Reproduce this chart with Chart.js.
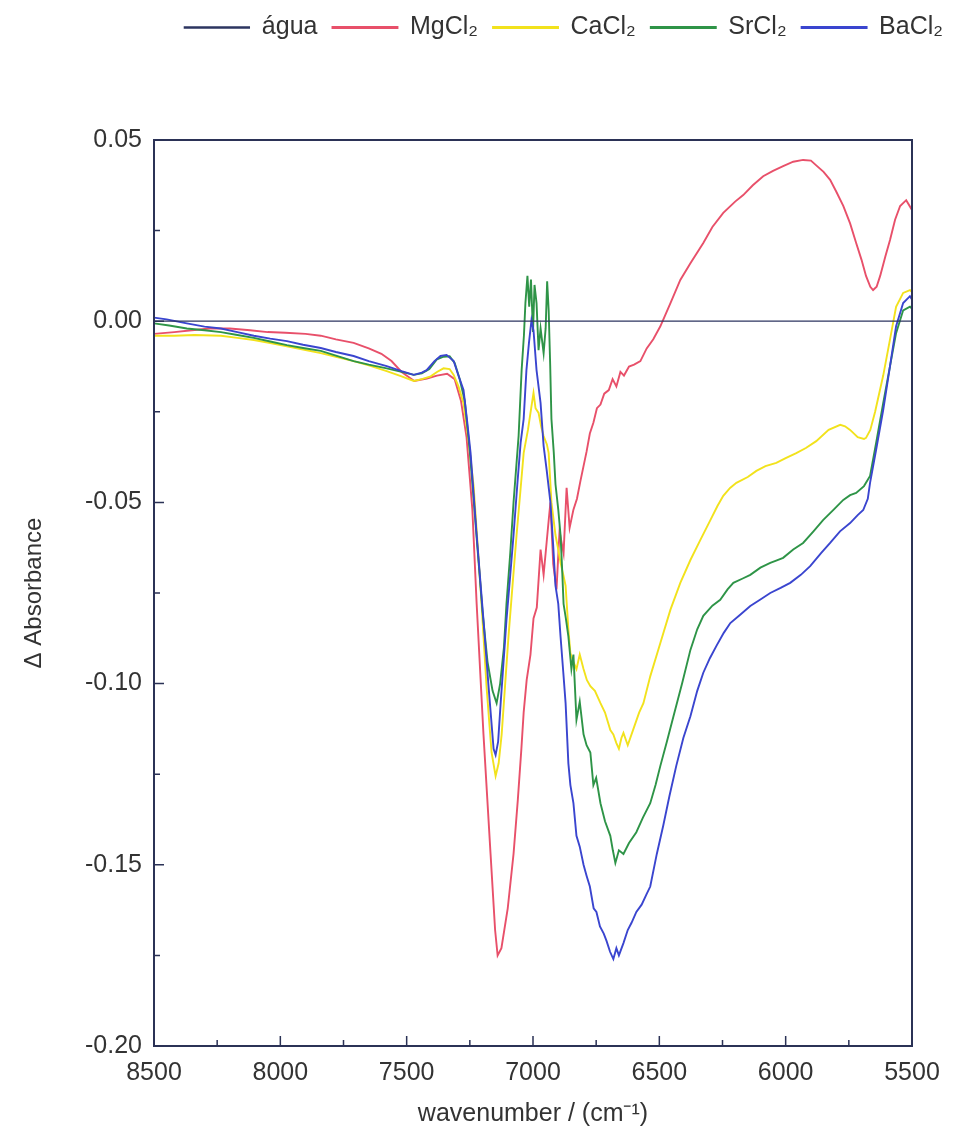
<!DOCTYPE html>
<html>
<head>
<meta charset="utf-8">
<script src="https://cdn.jsdelivr.net/npm/chart.js@4"></script>
<style>
  html, body { margin: 0; padding: 0; background: #fff; }
  #wrap { width: 958px; height: 1137px; }
</style>
</head>
<body>
<div id="wrap"><canvas id="container"></canvas></div>
<script>
// series names and colours
var names = ["água", "MgCl₂", "CaCl₂", "SrCl₂", "BaCl₂"];
var colors = ["#2c3560", "#e8506a", "#f2e21c", "#2e9447", "#3a45cf"];

// [wavenumber, delta absorbance]
var agua = [[8500, 0.0], [5500, 0.0]];

var mgcl2 = [
  [8500, -0.0035], [8420, -0.003], [8350, -0.0025], [8280, -0.002], [8200, -0.002], [8120, -0.0025],
  [8050, -0.003], [7980, -0.0032], [7900, -0.0035], [7840, -0.004], [7780, -0.005], [7710, -0.006],
  [7650, -0.0075], [7600, -0.009], [7560, -0.011], [7520, -0.014], [7470, -0.0165], [7420, -0.0158],
  [7380, -0.015], [7340, -0.0145], [7310, -0.016], [7285, -0.022], [7263, -0.032], [7240, -0.052],
  [7223, -0.078], [7196, -0.114], [7168, -0.147], [7150, -0.168], [7140, -0.175], [7125, -0.173],
  [7100, -0.162], [7077, -0.147], [7060, -0.132], [7046, -0.118], [7037, -0.108], [7025, -0.099],
  [7010, -0.092], [6998, -0.082], [6985, -0.079], [6970, -0.063], [6958, -0.070], [6946, -0.061],
  [6938, -0.055], [6931, -0.050], [6920, -0.067], [6907, -0.074], [6895, -0.058], [6879, -0.064],
  [6867, -0.046], [6855, -0.057], [6840, -0.052], [6826, -0.049], [6812, -0.044], [6800, -0.040],
  [6788, -0.036], [6775, -0.031], [6761, -0.028], [6747, -0.024], [6733, -0.023], [6718, -0.020],
  [6700, -0.019], [6685, -0.016], [6670, -0.018], [6654, -0.014], [6640, -0.015], [6620, -0.0125],
  [6600, -0.012], [6575, -0.011], [6550, -0.0075], [6524, -0.005], [6496, -0.0014], [6456, 0.005],
  [6417, 0.0114], [6377, 0.016], [6326, 0.0216], [6290, 0.026], [6247, 0.0299], [6200, 0.033],
  [6168, 0.0348], [6130, 0.0375], [6089, 0.040], [6050, 0.0415], [6010, 0.0428], [5970, 0.044],
  [5931, 0.0445], [5900, 0.0443], [5879, 0.043], [5850, 0.0412], [5824, 0.039], [5800, 0.0358],
  [5772, 0.0318], [5745, 0.027], [5721, 0.0216], [5700, 0.017], [5682, 0.0125], [5665, 0.0095],
  [5654, 0.0086], [5640, 0.0095], [5626, 0.0125], [5605, 0.018], [5587, 0.0224], [5567, 0.028],
  [5547, 0.0318], [5523, 0.0334], [5500, 0.0307]
];

var cacl2 = [
  [8500, -0.004], [8420, -0.004], [8340, -0.0038], [8235, -0.004], [8170, -0.0046], [8105, -0.0052],
  [8040, -0.006], [7974, -0.0069], [7910, -0.0078], [7840, -0.0088], [7780, -0.0098], [7710, -0.011],
  [7650, -0.0122], [7579, -0.0138], [7520, -0.0152], [7472, -0.0165], [7440, -0.016], [7405, -0.0152],
  [7380, -0.014], [7354, -0.013], [7330, -0.0132], [7314, -0.0148], [7295, -0.018], [7275, -0.0226],
  [7255, -0.033], [7235, -0.0455], [7208, -0.073], [7184, -0.1007], [7164, -0.119], [7148, -0.1255],
  [7136, -0.122], [7124, -0.114], [7110, -0.100], [7097, -0.087], [7080, -0.072], [7065, -0.059],
  [7050, -0.047], [7037, -0.0364], [7020, -0.030], [7010, -0.0253], [6998, -0.0198], [6990, -0.024],
  [6978, -0.0253], [6968, -0.029], [6958, -0.0317], [6945, -0.034], [6938, -0.0364], [6927, -0.050],
  [6911, -0.059], [6900, -0.063], [6891, -0.0667], [6880, -0.070], [6871, -0.073], [6860, -0.085],
  [6852, -0.0916], [6840, -0.094], [6828, -0.096], [6815, -0.092], [6800, -0.096], [6787, -0.099],
  [6773, -0.1007], [6755, -0.102], [6733, -0.1054], [6715, -0.108], [6694, -0.1128], [6682, -0.114],
  [6670, -0.1164], [6660, -0.118], [6650, -0.115], [6642, -0.1136], [6625, -0.117], [6600, -0.112],
  [6580, -0.108], [6563, -0.1054], [6536, -0.098], [6496, -0.0888], [6456, -0.0796], [6417, -0.0722],
  [6377, -0.0659], [6338, -0.0604], [6298, -0.0549], [6270, -0.051], [6247, -0.0482], [6220, -0.046],
  [6195, -0.0446], [6150, -0.043], [6116, -0.0413], [6080, -0.040], [6037, -0.0391], [6000, -0.0378],
  [5958, -0.0364], [5920, -0.035], [5879, -0.0331], [5830, -0.030], [5784, -0.0286], [5765, -0.029],
  [5745, -0.030], [5715, -0.032], [5690, -0.0325], [5682, -0.0322], [5665, -0.030], [5646, -0.025],
  [5614, -0.015], [5587, -0.005], [5563, 0.004], [5535, 0.0078], [5508, 0.0086], [5500, 0.008]
];

var srcl2 = [
  [8500, -0.0006], [8440, -0.0012], [8370, -0.002], [8300, -0.0025], [8235, -0.003], [8170, -0.0038],
  [8105, -0.0046], [8040, -0.0056], [7974, -0.0066], [7910, -0.0074], [7840, -0.0082], [7780, -0.0095],
  [7710, -0.011], [7650, -0.012], [7579, -0.013], [7520, -0.014], [7472, -0.0148], [7440, -0.0144],
  [7410, -0.0132], [7380, -0.0105], [7354, -0.0098], [7330, -0.0097], [7310, -0.0115], [7290, -0.016],
  [7270, -0.022], [7250, -0.036], [7225, -0.058], [7200, -0.080], [7180, -0.094], [7160, -0.102],
  [7144, -0.1054], [7130, -0.100], [7115, -0.090], [7105, -0.078], [7090, -0.064], [7077, -0.050],
  [7057, -0.0317], [7045, -0.0135], [7036, -0.004], [7030, 0.005], [7022, 0.0125], [7015, 0.004],
  [7008, 0.0115], [7000, -0.003], [6994, 0.010], [6986, 0.005], [6978, -0.008], [6970, -0.002],
  [6958, -0.0088], [6950, -0.002], [6944, 0.011], [6938, 0.003], [6932, -0.012], [6927, -0.027],
  [6918, -0.036], [6911, -0.045], [6900, -0.052], [6891, -0.059], [6885, -0.068], [6879, -0.078],
  [6870, -0.082], [6860, -0.087], [6848, -0.096], [6840, -0.092], [6828, -0.110], [6815, -0.105],
  [6800, -0.114], [6788, -0.117], [6773, -0.119], [6761, -0.128], [6750, -0.126], [6733, -0.133],
  [6715, -0.138], [6694, -0.142], [6684, -0.146], [6674, -0.1495], [6660, -0.146], [6642, -0.147],
  [6620, -0.144], [6591, -0.141], [6565, -0.137], [6536, -0.133], [6515, -0.128], [6496, -0.1227],
  [6470, -0.116], [6444, -0.109], [6410, -0.100], [6377, -0.0907], [6350, -0.085], [6326, -0.0813],
  [6290, -0.0785], [6259, -0.0769], [6230, -0.074], [6207, -0.0722], [6170, -0.071], [6140, -0.070],
  [6100, -0.068], [6061, -0.0667], [6035, -0.066], [6010, -0.0653], [5970, -0.063], [5931, -0.0612],
  [5890, -0.058], [5852, -0.0549], [5810, -0.052], [5772, -0.0493], [5745, -0.048], [5721, -0.0474],
  [5690, -0.0455], [5666, -0.0427], [5642, -0.0336], [5614, -0.0226], [5587, -0.0124], [5563, -0.0033],
  [5535, 0.003], [5508, 0.004], [5500, 0.0035]
];

var bacl2 = [
  [8500, 0.001], [8450, 0.0005], [8370, -0.0006], [8300, -0.0015], [8235, -0.002], [8170, -0.003],
  [8105, -0.004], [8040, -0.0048], [7974, -0.0055], [7910, -0.0065], [7840, -0.0074], [7780, -0.0085],
  [7710, -0.0096], [7650, -0.011], [7579, -0.0124], [7520, -0.0138], [7472, -0.0148], [7440, -0.0142],
  [7421, -0.0135], [7390, -0.011], [7366, -0.0096], [7342, -0.0093], [7314, -0.011], [7295, -0.015],
  [7275, -0.019], [7260, -0.028], [7247, -0.0364], [7223, -0.059], [7196, -0.0825], [7176, -0.1007],
  [7156, -0.118], [7148, -0.1197], [7138, -0.116], [7128, -0.1054], [7105, -0.0825], [7090, -0.070],
  [7077, -0.059], [7062, -0.045], [7049, -0.0336], [7037, -0.027], [7026, -0.0135], [7016, -0.006],
  [7006, 0.0003], [6998, -0.0025], [6986, -0.0135], [6970, -0.0226], [6958, -0.0344], [6946, -0.041],
  [6931, -0.050], [6920, -0.062], [6911, -0.073], [6900, -0.078], [6891, -0.087], [6880, -0.097],
  [6871, -0.1054], [6860, -0.122], [6852, -0.128], [6840, -0.133], [6828, -0.142], [6815, -0.145],
  [6800, -0.150], [6788, -0.153], [6775, -0.156], [6760, -0.162], [6749, -0.163], [6735, -0.167],
  [6720, -0.169], [6709, -0.171], [6695, -0.174], [6682, -0.176], [6670, -0.173], [6660, -0.175],
  [6642, -0.1716], [6625, -0.168], [6610, -0.166], [6591, -0.163], [6570, -0.161], [6550, -0.158],
  [6536, -0.156], [6510, -0.147], [6484, -0.139], [6460, -0.131], [6433, -0.1227], [6405, -0.115],
  [6377, -0.109], [6350, -0.102], [6326, -0.097], [6300, -0.093], [6274, -0.0896], [6245, -0.086],
  [6219, -0.0833], [6180, -0.081], [6140, -0.0786], [6100, -0.0768], [6061, -0.075], [6020, -0.0736],
  [5982, -0.0722], [5940, -0.070], [5903, -0.0676], [5860, -0.064], [5824, -0.0612], [5785, -0.058],
  [5745, -0.0557], [5715, -0.0535], [5693, -0.0521], [5675, -0.049], [5666, -0.0446], [5642, -0.0355],
  [5614, -0.0245], [5587, -0.0124], [5563, -0.0014], [5535, 0.005], [5508, 0.0069], [5500, 0.006]
];

var series = [agua, mgcl2, cacl2, srcl2, bacl2];
var drawOrder = [0, 4, 3, 2, 1];

// axis ranges and ticks
var xMin = 5500, xMax = 8500, xStep = 500, xMinor = 250;
var yMin = -0.20, yMax = 0.05, yStep = 0.05, yMinor = 0.025;

var axisColor = "#2b3256";
var textColor = "#333333";
Chart.defaults.font.family = "'Liberation Sans', Arial, sans-serif";
Chart.defaults.color = textColor;

// frame round the plot and inward ticks on bottom and left
const framePlugin = {
  id: 'frame',
  afterDatasetsDraw(chart) {
    const ctx = chart.ctx;
    const a = chart.chartArea;
    const x = chart.scales.x, y = chart.scales.y;
    ctx.save();
    ctx.strokeStyle = axisColor;
    ctx.lineWidth = 2;
    ctx.strokeRect(a.left, a.top, a.right - a.left, a.bottom - a.top);
    ctx.lineWidth = 1.5;
    ctx.beginPath();
    for (let v = xMin; v <= xMax; v += xMinor) {
      const px = x.getPixelForValue(v);
      const len = v % xStep === 0 ? 10 : 6;
      ctx.moveTo(px, a.bottom);
      ctx.lineTo(px, a.bottom - len);
    }
    const n = Math.round((yMax - yMin) / yMinor);
    for (let i = 0; i <= n; i++) {
      const py = y.getPixelForValue(yMin + i * yMinor);
      const len = i % 2 === 0 ? 10 : 6;
      ctx.moveTo(a.left, py);
      ctx.lineTo(a.left + len, py);
    }
    ctx.stroke();
    ctx.restore();
  }
};

// make the legend band tall so the plot starts lower
const legendSpace = {
  id: 'legendSpace',
  beforeInit(chart) {
    const fit = chart.legend.fit;
    chart.legend.fit = function () {
      fit.bind(chart.legend)();
      this.height = 140;
    };
  }
};

const datasets = series.map(function (s, i) {
  return {
    label: names[i],
    data: s.map(function (p) { return { x: p[0], y: p[1] }; }),
    borderColor: colors[i],
    backgroundColor: colors[i],
    borderWidth: i === 0 ? 1.3 : 1.9,
    pointRadius: 0,
    tension: 0,
    order: drawOrder[i]
  };
});

new Chart("container", {
  type: 'line',
  data: { datasets: datasets },
  options: {
    responsive: true,
    maintainAspectRatio: false,
    animation: false,
    layout: { padding: 0 },
    plugins: {
      tooltip: { enabled: false },
      legend: {
        position: 'top',
        align: 'end',
        labels: {
          boxWidth: 65,
          boxHeight: 1,
          padding: 15,
          color: textColor,
          font: { size: 25 },
          sort: function (a, b) { return a.datasetIndex - b.datasetIndex; }
        }
      }
    },
    scales: {
      x: {
        type: 'linear',
        reverse: true,
        min: xMin,
        max: xMax,
        grid: { display: false, drawTicks: false },
        border: { display: false },
        ticks: {
          stepSize: xStep,
          padding: 12,
          font: { size: 25 },
          color: textColor,
          maxRotation: 0,
          callback: function (v) { return String(v); }
        },
        title: {
          display: true,
          text: 'wavenumber / (cm⁻¹)',
          font: { size: 25 },
          color: textColor,
          padding: { top: 0, bottom: 8 }
        },
        afterFit: function (s) { s.height = 91; }
      },
      y: {
        min: yMin,
        max: yMax,
        grid: { display: false, drawTicks: false },
        border: { display: false },
        ticks: {
          stepSize: yStep,
          padding: 12,
          font: { size: 25 },
          color: textColor,
          callback: function (v) { return Number(v).toFixed(2); }
        },
        title: {
          display: true,
          text: 'Δ Absorbance',
          font: { size: 24 },
          color: textColor,
          padding: { top: 20, bottom: 0 }
        },
        afterFit: function (s) { s.width = 154; }
      },
      y2: {
        position: 'right',
        min: 0,
        max: 1,
        grid: { display: false, drawTicks: false },
        border: { display: false },
        ticks: { display: false },
        afterFit: function (s) { s.width = 46; }
      }
    }
  },
  plugins: [framePlugin, legendSpace]
});
</script>
</body>
</html>
